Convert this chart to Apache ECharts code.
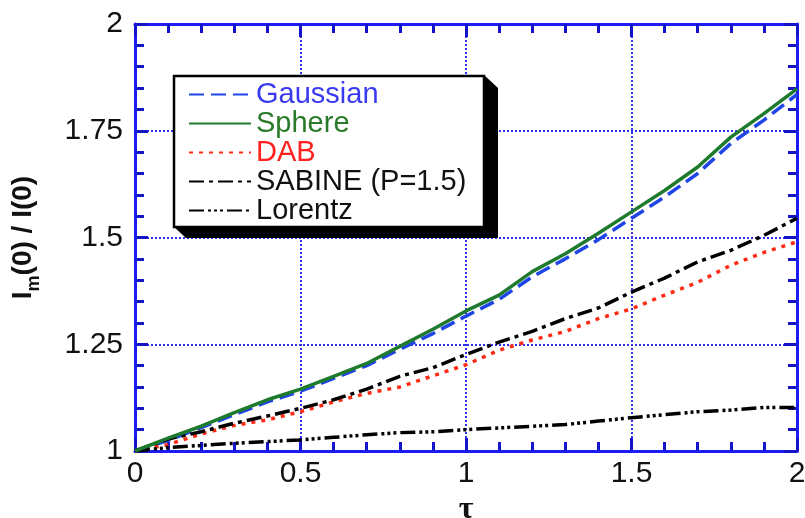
<!DOCTYPE html>
<html><head><meta charset="utf-8">
<script src="https://cdn.jsdelivr.net/npm/echarts@6/dist/echarts.min.js"></script>
<style>html,body{margin:0;padding:0;background:#fff}#c{width:805px;height:518px}</style>
</head><body><div id="c"></div>
<script>
// ---- data ----
const tau      = [0,0.1,0.2,0.3,0.4,0.5,0.6,0.7,0.8,0.9,1.0,1.1,1.2,1.3,1.4,1.5,1.6,1.7,1.8,1.9,2.0];
const gaussian = [1.0,1.025,1.055,1.085,1.115,1.14,1.17,1.2,1.238,1.275,1.316,1.355,1.408,1.45,1.495,1.545,1.595,1.65,1.72,1.775,1.835];
const sphere   = [1.0,1.03,1.058,1.09,1.12,1.145,1.175,1.205,1.245,1.285,1.328,1.365,1.42,1.462,1.51,1.56,1.61,1.665,1.735,1.79,1.848];
const dab      = [1.0,1.015,1.04,1.06,1.073,1.092,1.115,1.135,1.15,1.176,1.202,1.236,1.26,1.28,1.31,1.333,1.365,1.395,1.435,1.465,1.49];
const sabine   = [1.0,1.028,1.045,1.065,1.082,1.10,1.12,1.145,1.175,1.195,1.226,1.255,1.28,1.31,1.335,1.372,1.405,1.443,1.47,1.505,1.545];
const lorentz  = [1.0,1.008,1.013,1.018,1.022,1.026,1.032,1.038,1.043,1.045,1.05,1.054,1.058,1.062,1.07,1.078,1.085,1.092,1.096,1.102,1.102];
const seriesNames = ['Gaussian','Sphere','DAB','SABINE (P=1.5)','Lorentz'];
const xTicks = [0,0.5,1,1.5,2];
const yTicks = [1,1.25,1.5,1.75,2];

const pairs = ys => tau.map((t,i)=>[t, ys[i]]);
const blue = '#1c1cf5';
const tickBlue = 'rgb(20,20,200)';
const font = 'Liberation Sans, Arial, sans-serif';

const xMin = xTicks[0], xMax = xTicks[xTicks.length-1], xInt = xTicks[1]-xTicks[0];
const yMin = yTicks[0], yMax = yTicks[yTicks.length-1], yInt = yTicks[1]-yTicks[0];

const chart = echarts.init(document.getElementById('c'), null, {renderer:'canvas'});
const lineW = 3.5;
const styles = [
  {color:'#1f45e6', type:[15,7]},
  {color:'#1e7a2c', type:'solid'},
  {color:'#ff2a14', type:[4,6]},
  {color:'#000000', type:[15,5,4,5]},
  {color:'#000000', type:[15,4,3,3,3,3,3,4]}
];
const dataSets = [gaussian, sphere, dab, sabine, lorentz];
const textColors = ['#3a3af0','#2a7a2a','#ff2020','#111','#111'];
const split = {show:true,lineStyle:{color:'#2f2fee',width:2,type:[2,2]}};
const aLine = {show:true,onZero:false,lineStyle:{color:blue,width:3}};
const ticks = c => ({show:true,inside:true,length:13,lineStyle:{color:c,width:3}});
const minor = c => ({show:true,splitNumber:5,length:9,lineStyle:{color:c,width:3}});

chart.setOption({
  animation:false,
  grid:{left:135,right:8,top:24,bottom:67,containLabel:false,outerBoundsMode:'none'},
  xAxis:[
    {type:'value',min:xMin,max:xMax,interval:xInt,position:'bottom',
      axisLine:aLine, splitLine:split, axisTick:ticks(tickBlue), minorTick:minor(tickBlue),
      axisLabel:{color:'#111',fontSize:30,fontFamily:font,margin:8},
      name:'τ',nameLocation:'middle',nameGap:30,
      nameTextStyle:{fontSize:32,fontWeight:'bold',color:'#111',fontFamily:'Liberation Serif, serif'}},
    {type:'value',min:xMin,max:xMax,interval:xInt,position:'top',
      axisLine:aLine, splitLine:{show:false}, axisLabel:{show:false},
      axisTick:ticks(tickBlue), minorTick:minor(tickBlue)}
  ],
  yAxis:[
    {type:'value',min:yMin,max:yMax,interval:yInt,position:'left',
      axisLine:aLine, splitLine:split, axisTick:ticks(tickBlue), minorTick:minor(tickBlue),
      axisLabel:{color:'#111',fontSize:30,fontFamily:font,margin:12},
      name:'{a|I}{b|m}{a|(0) / I(0)}',nameLocation:'middle',nameGap:92,
      nameTextStyle:{rich:{
        a:{fontSize:28,fontWeight:'bold',color:'#111',fontFamily:font,lineHeight:34,verticalAlign:'top'},
        b:{fontSize:18,fontWeight:'bold',color:'#111',fontFamily:font,lineHeight:34,verticalAlign:'bottom',padding:[14,0,0,0]}
      }}},
    {type:'value',min:yMin,max:yMax,interval:yInt,position:'right',
      axisLine:aLine, splitLine:{show:false}, axisLabel:{show:false},
      axisTick:ticks(tickBlue), minorTick:minor(tickBlue)}
  ],
  legend:{
    show:true, orient:'vertical', left:183, top:75, z:20,
    itemWidth:62, itemHeight:14, itemGap:0,
    itemStyle:{opacity:0},
    textStyle:{fontSize:29,fontFamily:font,lineHeight:28.5},
    data: seriesNames.map((n,i)=>({name:n,textStyle:{color:textColors[i]}})),
    selectedMode:false
  },
  graphic:[
    {type:'polygon',z:15,shape:{points:[[484,75],[498,88],[498,238],[186,238],[173,226]]},style:{fill:'#000'}},
    {type:'rect',z:16,shape:{x:174,y:76,width:310,height:151},style:{fill:'#fff',stroke:'#000',lineWidth:2.5}}
  ],
  series: seriesNames.map((n,i)=>({
    name:n, type:'line', data:pairs(dataSets[i]), symbol:'none', showSymbol:false, smooth:false,
    lineStyle:{color:styles[i].color,width:lineW,type:styles[i].type},
    itemStyle:{color:styles[i].color},
    z: 5 - (i===1?0:1)
  }))
});
</script>
</body></html>
